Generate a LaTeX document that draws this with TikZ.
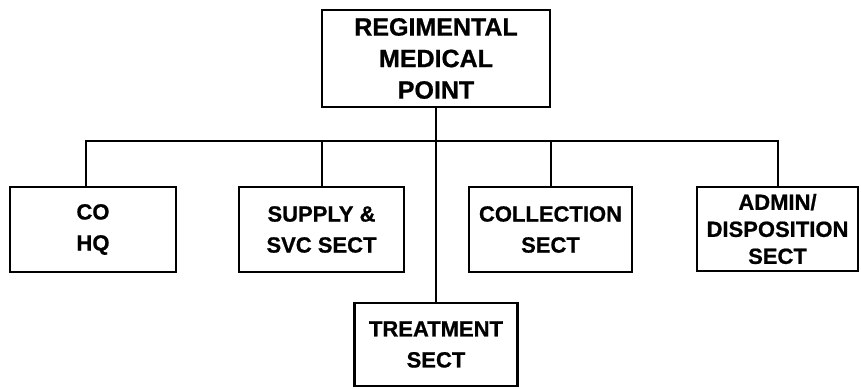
\documentclass[tikz,border=0pt]{standalone}
\usepackage{fontspec}
\setmainfont[BoldFeatures={FakeBold=0.8}]{Liberation Sans}
\begin{document}
\begin{tikzpicture}[x=1pt,y=-1pt,
  box/.style={draw=black, line width=2.2pt, fill=white, inner sep=0pt, align=center,
    font=\bfseries\fontsize{22}{31}\selectfont},
  wire/.style={draw=black, line width=2pt}]
\useasboundingbox (0,0) rectangle (861,388);
\node[box, minimum width=228pt, minimum height=97pt, font=\bfseries\fontsize{25}{31.5}\selectfont] (top) at (436,58.5) {REGIMENTAL\\MEDICAL\\POINT};
\node[box, minimum width=166pt, minimum height=85pt] (co) at (93,229.5) {CO\\HQ};
\node[box, minimum width=165pt, minimum height=85pt] (supply) at (321.5,229.5) {SUPPLY \&\\SVC SECT};
\node[box, minimum width=163pt, minimum height=85pt] (coll) at (550.5,229.5) {COLLECTION\\SECT};
\node[box, minimum width=161pt, minimum height=84pt, font=\bfseries\fontsize{22}{27}\selectfont] (admin) at (777.5,229) {ADMIN/\\DISPOSITION\\SECT};
\node[box, minimum width=163pt, minimum height=83pt] (treat) at (436,344.5) {TREATMENT\\SECT};
\coordinate (jl) at (86,141);
\coordinate (jr) at (778,141);
\coordinate (jm) at (436,141);
\draw[wire] (top.south) -- (treat.north);
\draw[wire] (jl |- co.north) -- (jl) -- (jr) -- (jr |- admin.north);
\draw[wire] (supply.north) -- (supply.north |- jm);
\draw[wire] (coll.north) -- (coll.north |- jm);
\end{tikzpicture}
\end{document}
